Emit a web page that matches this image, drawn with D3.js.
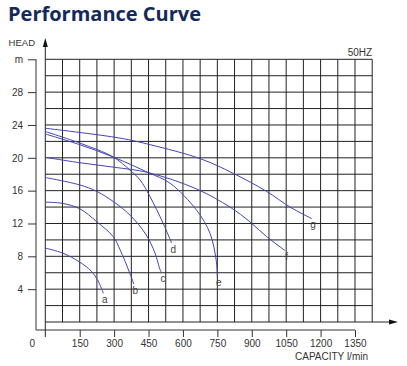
<!DOCTYPE html>
<html><head><meta charset="utf-8">
<script src="https://cdn.jsdelivr.net/npm/d3@7"></script>
<style>
html,body{margin:0;padding:0;background:#fff;}
svg{display:block;}
</style></head>
<body>
<svg id="chart" width="407" height="366"></svg>
<script>
// ---- data ----
const title = "Performance Curve";
const xTickValues = [0,150,300,450,600,750,900,1050,1200,1350];
const yTickValues = [4,8,12,16,20,24,28,32];
const yTickLabels = ["4","8","12","16","20","24","28","m"];
const curveNames = ["a","b","c","d","e","f","g"];
const curveA = [[0,9.0],[75,8.4],[150,7.3],[200,6.2],[230,5.0],[253,3.5]];
const curveB = [[0,14.6],[75,14.45],[150,13.8],[225,12.2],[296,10.4],[326,8.8],[369,5.9],[386,4.6]];
const curveC = [[0,17.6],[150,16.7],[225,15.9],[300,14.6],[370,13.0],[440,10.6],[478,8.4],[500,6.4],[507,6.0]];
const curveD = [[0,23.2],[150,21.8],[296,20.1],[369,18.5],[413,17.3],[456,15.3],[514,12.0],[551,9.6]];
const curveE = [[0,22.9],[150,21.6],[296,20.1],[449,18.2],[544,16.9],[660,13.6],[718,10.8],[745,7.5],[750,5.5]];
const curveF = [[0,20.06],[151,19.4],[300,18.85],[449,18.2],[660,16.2],[805,14.0],[892,12.2],[965,10.4],[1045,8.7]];
const curveG = [[0,23.6],[326,22.4],[457,21.6],[675,19.9],[820,18.1],[965,15.9],[1067,14.0],[1161,12.6]];
const curves = [curveA,curveB,curveC,curveD,curveE,curveF,curveG];

// ---- layout ----
const svg = d3.select("#chart");
const x = d3.scaleLinear().domain([0,1425]).range([45.3,372.2]);
const y = d3.scaleLinear().domain([0,32]).range([322,59.3]);
const gridX = d3.range(0,1426,75);
const gridY = d3.range(0,33,2);
const frameLeft = 36, frameBottom = 330;
const font = "'Liberation Sans', Arial, sans-serif";
const textCol = "#333";
const gridCol = "#222";
const curveCol = "#4444b8";

// title
svg.append("text").attr("x",8).attr("y",21)
  .attr("font-family","'Open Sans', sans-serif").attr("font-weight",700)
  .attr("font-size",20).attr("fill","#14295a").text(title);

// grid
const g = svg.append("g");
g.selectAll("line.vx").data(gridX.slice(1)).join("line")
  .attr("x1",d=>x(d)).attr("x2",d=>x(d)).attr("y1",y(32)).attr("y2",y(0))
  .attr("stroke",gridCol).attr("stroke-width",1);
g.selectAll("line.hy").data(gridY.slice(1)).join("line")
  .attr("x1",x(0)).attr("x2",x(1425)).attr("y1",d=>y(d)).attr("y2",d=>y(d))
  .attr("stroke",gridCol).attr("stroke-width",1);

// main arrows (axes through origin)
const arrowTopY = 38, arrowRightX = 398;
g.append("line").attr("x1",x(0)).attr("x2",x(0)).attr("y1",frameBottom+7).attr("y2",arrowTopY+4)
  .attr("stroke",gridCol).attr("stroke-width",1);
g.append("path").attr("d",`M${x(0)},${arrowTopY} L${x(0)-2.5},${arrowTopY+9} L${x(0)+2.5},${arrowTopY+9} Z`).attr("fill","#111");
g.append("line").attr("x1",x(0)).attr("x2",arrowRightX-4).attr("y1",y(0)).attr("y2",y(0))
  .attr("stroke",gridCol).attr("stroke-width",1);
g.append("path").attr("d",`M${arrowRightX},${y(0)} L${arrowRightX-9},${y(0)-2.5} L${arrowRightX-9},${y(0)+2.5} Z`).attr("fill","#111");

// offset frame: left & bottom axes
g.append("path").attr("d",`M${frameLeft},${y(32)} L${frameLeft},${frameBottom} L${x(1350)},${frameBottom}`)
  .attr("fill","none").attr("stroke","#333").attr("stroke-width",1);

// y axis ticks
const yAxis = d3.axisLeft(y).tickValues(yTickValues).tickSize(8).tickPadding(5)
  .tickFormat((d,i)=>yTickLabels[i]);
const ya = svg.append("g").attr("transform",`translate(${frameLeft},0)`).call(yAxis);
ya.select(".domain").remove();
ya.selectAll(".tick line").attr("stroke","#333");
ya.selectAll(".tick text").attr("font-family",font).attr("font-size",10).attr("fill",textCol);

// x axis ticks
const xAxis = d3.axisBottom(x).tickValues(xTickValues).tickSize(7).tickPadding(3)
  .tickFormat(d3.format("d"));
const xa = svg.append("g").attr("transform",`translate(0,${frameBottom})`).call(xAxis);
xa.select(".domain").remove();
xa.selectAll(".tick line").attr("stroke","#333");
xa.selectAll(".tick").filter(d=>d===0).select("line").remove();
xa.selectAll(".tick text").attr("font-family",font).attr("font-size",10).attr("fill",textCol)
  .attr("dx",d=>d===0?-13.6:0);

// axis titles
svg.append("text").attr("x",35).attr("y",46).attr("text-anchor","end")
  .attr("font-family",font).attr("font-size",9.5).attr("fill",textCol).text("HEAD");
svg.append("text").attr("x",368).attr("y",360).attr("text-anchor","end")
  .attr("font-family",font).attr("font-size",10).attr("fill",textCol).text("CAPACITY l/min");
svg.append("text").attr("x",x(1425)).attr("y",56).attr("text-anchor","end")
  .attr("font-family",font).attr("font-size",10).attr("fill",textCol).text("50HZ");

// curves
const line = d3.line().x(d=>x(d[0])).y(d=>y(d[1])).curve(d3.curveCatmullRom.alpha(0.5));
svg.append("g").selectAll("path").data(curves).join("path")
  .attr("d",line).attr("fill","none").attr("stroke",curveCol).attr("stroke-width",1);

// curve labels
svg.append("g").selectAll("text").data(curves).join("text")
  .attr("x",d=>x(d[d.length-1][0])+1.5).attr("y",d=>y(d[d.length-1][1])+9.5)
  .attr("text-anchor","middle").attr("font-family",font).attr("font-size",10).attr("fill","#444")
  .text((d,i)=>curveNames[i]);
</script>
</body></html>
